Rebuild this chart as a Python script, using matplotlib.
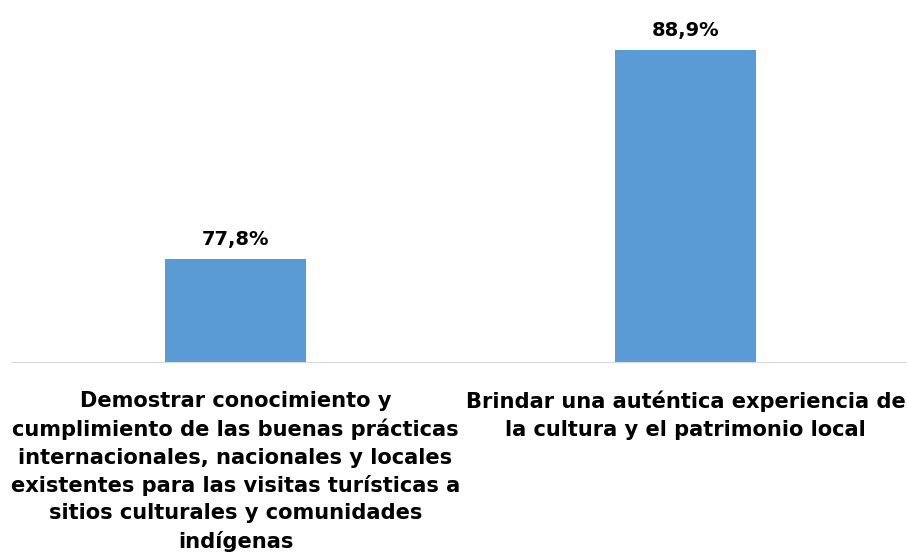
import numpy as np
import matplotlib.pyplot as plt

# datos
categorias = ["Demostrar conocimiento y\ncumplimiento de las buenas prácticas\ninternacionales, nacionales y locales\nexistentes para las visitas turísticas a\nsitios culturales y comunidades\nindígenas",
              "Brindar una auténtica experiencia de\nla cultura y el patrimonio local"]
valores = [77.8, 88.9]
etiquetas = ["77,8%", "88,9%"]

plt.rcParams['font.family'] = ['DejaVu Sans']

fig = plt.figure(figsize=(9.07, 5.57), dpi=100)
ax = fig.add_axes([10.5/907, 1-362/557, 1-10.5/907, 362/557])

x = np.arange(len(valores))
base = 72.33
ax.bar(x, np.array(valores)-base, bottom=base, width=0.313, color='#5b9bd5')
ax.set_xlim(-0.5, 1 + (907-685.5)/450)
ax.set_ylim(base, 91.55)

for xi, v, t in zip(x, valores, etiquetas):
    ax.text(xi, v + 0.55, t, ha='center', va='bottom', fontsize=14, fontweight='bold', color='#000000')

for xi, c in zip(x, categorias):
    ax.text(xi, -0.08, c, ha='center', va='top', fontsize=15.1, fontweight='bold',
            linespacing=1.45, transform=ax.get_xaxis_transform())

for s in ['top', 'right', 'left']:
    ax.spines[s].set_visible(False)
ax.spines['bottom'].set_color('#d9d9d9')
ax.set_xticks([])
ax.set_yticks([])

fig.savefig('out.png', dpi=100)
